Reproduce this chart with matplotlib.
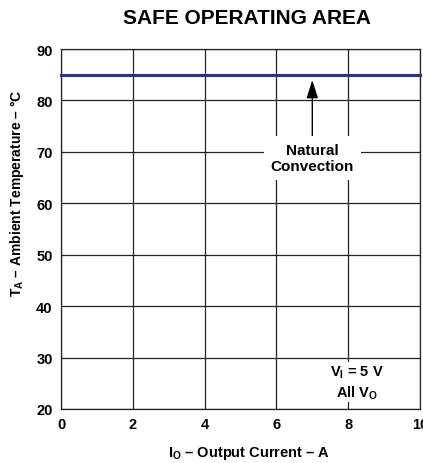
import matplotlib
matplotlib.use("Agg")
import matplotlib.pyplot as plt

plt.rcParams['font.family'] = ['Liberation Sans', 'DejaVu Sans']
plt.rcParams['font.weight'] = 'bold'
plt.rcParams['mathtext.fontset'] = 'custom'
plt.rcParams['mathtext.rm'] = 'Liberation Sans:bold'
plt.rcParams['mathtext.bf'] = 'Liberation Sans:bold'
plt.rcParams['mathtext.it'] = 'Liberation Sans:bold'

x_ticks = [0, 2, 4, 6, 8, 10]
y_ticks = [20, 30, 40, 50, 60, 70, 80, 90]
soa_current = [0, 10]
soa_temp = [85, 85]
arrow_x = 7.0
arrow_tip = 85
arrow_tail = 72.5

fig = plt.figure(figsize=(4.23, 4.64), dpi=100)
ax = fig.add_axes([61/423, 54/464, 359/423, 360/464])
ax.set_xlim(0, 10)
ax.set_ylim(20, 90)
ax.set_xticks(x_ticks)
ax.set_yticks(y_ticks)
ax.grid(True, color='#222222', linewidth=0.9)
ax.set_axisbelow(True)
for s in ax.spines.values():
    s.set_color('#222222')
    s.set_linewidth(0.9)
ax.tick_params(length=0, labelsize=10.5, pad=6)
for lbl in ax.get_xticklabels() + ax.get_yticklabels():
    lbl.set_fontweight('bold')

ax.plot(soa_current, soa_temp, color='#2e3192', linewidth=2.2, clip_on=False, zorder=3)

ax.annotate('', xy=(arrow_x, arrow_tip - 0.5), xytext=(arrow_x, arrow_tail),
            arrowprops=dict(arrowstyle='-|>,head_width=0.35,head_length=1.1',
                            color='black', lw=1.0), zorder=4)
ax.text(arrow_x, 68.8, 'Natural\nConvection', ha='center', va='center', fontsize=11,
        fontweight='bold', linespacing=1.25,
        bbox=dict(facecolor='white', edgecolor='none', pad=5), zorder=5)
ax.text(8.25, 25.2, '$\\mathrm{V_I}$ = 5 V\nAll $\\mathrm{V_O}$', ha='center', va='center',
        fontsize=10.5, fontweight='bold', linespacing=1.25,
        bbox=dict(facecolor='white', edgecolor='none', pad=1), zorder=5)

ax.set_xlabel('$\\mathrm{I_O}$ – Output Current – A', fontsize=10.5, fontweight='bold')
ax.xaxis.set_label_coords((249 - 61) / 359, -35/360)
ax.set_ylabel('$\\mathrm{T_A}$ – Ambient Temperature – °C', fontsize=10, fontweight='bold')
ax.yaxis.set_label_coords(-35/359, (464 - 193 - 54) / 360)
fig.text(247/423, 1 - 18/464, 'SAFE OPERATING AREA', ha='center', va='center',
         fontsize=15, fontweight='bold')

fig.savefig('out.png', dpi=100)
